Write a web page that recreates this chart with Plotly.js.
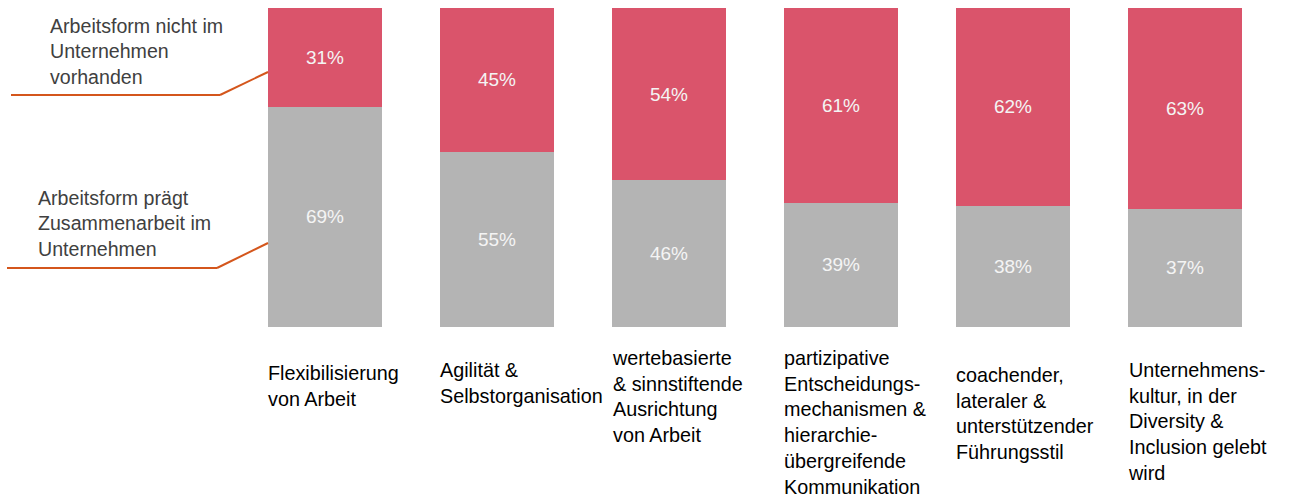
<!DOCTYPE html>
<html>
<head>
<meta charset="utf-8">
<script src="https://cdn.plot.ly/plotly-3.0.1.min.js"></script>
<style>html,body{margin:0;padding:0;background:#fff;}#chart{width:1303px;height:498px;}</style>
</head>
<body>
<div id="chart"></div>
<script>
// ---- data ----
const categories = [
  "Flexibilisierung<br>von Arbeit",
  "Agilität &<br>Selbstorganisation",
  "wertebasierte<br>& sinnstiftende<br>Ausrichtung<br>von Arbeit",
  "partizipative<br>Entscheidungs-<br>mechanismen &<br>hierarchie-<br>übergreifende<br>Kommunikation",
  "coachender,<br>lateraler &<br>unterstützender<br>Führungsstil",
  "Unternehmens-<br>kultur, in der<br>Diversity &<br>Inclusion gelebt<br>wird"
];
const praegtValues = [69, 55, 46, 39, 38, 37];
const nichtValues = [31, 45, 54, 61, 62, 63];
const seriesNames = ["Arbeitsform prägt<br>Zusammenarbeit im<br>Unternehmen", "Arbeitsform nicht im<br>Unternehmen<br>vorhanden"];

// ---- layout geometry (pixels) ----
const W = 1303, H = 498;
const mL = 239, mR = 32, mT = 8, mB = 171;
const plotW = W - mL - mR, plotH = H - mT - mB;
const px = p => (p - mL) / plotW;
const py = p => (H - mB - p) / plotH;

const FONT = "Arial, 'Liberation Sans', sans-serif";
const grey = "#b4b4b4", red = "#da546b", orange = "#d4561c";
const barWidth = 0.663;

const idx = categories.map((c, i) => i);

const traces = [
  {type: "bar", x: idx, y: praegtValues, name: seriesNames[0], marker: {color: grey},
   width: barWidth, texttemplate: "%{y}%", textposition: "inside", insidetextanchor: "middle",
   textangle: 0, constraintext: "none", textfont: {family: FONT, size: 19, color: "#f4f4f4"}, hoverinfo: "none"},
  {type: "bar", x: idx, y: nichtValues, name: seriesNames[1], marker: {color: red},
   width: barWidth, texttemplate: "%{y}%", textposition: "inside", insidetextanchor: "middle",
   textangle: 0, constraintext: "none", textfont: {family: FONT, size: 19, color: "#f4f4f4"}, hoverinfo: "none"}
];

// category label first-line centre (px)
const labelTops = [373, 370, 358, 358, 375, 370];
const annotations = categories.map((c, i) => ({
  xref: "x", yref: "paper", x: i - barWidth / 2, y: py(labelTops[i] - 13), xshift: -2,
  xanchor: "left", yanchor: "top", align: "left", showarrow: false,
  text: c, font: {family: FONT, size: 19.8, color: "#000"}
}));
annotations.push({xref: "paper", yref: "paper", x: px(48), y: py(51), xanchor: "left", yanchor: "middle",
  align: "left", showarrow: false, text: seriesNames[1], font: {family: FONT, size: 19.6, color: "#404040"}});
annotations.push({xref: "paper", yref: "paper", x: px(36), y: py(223), xanchor: "left", yanchor: "middle",
  align: "left", showarrow: false, text: seriesNames[0], font: {family: FONT, size: 19.6, color: "#404040"}});

const seg = (x0, y0, x1, y1) => ({type: "line", xref: "paper", yref: "paper",
  x0: px(x0), y0: py(y0), x1: px(x1), y1: py(y1), line: {color: orange, width: 2}});
const shapes = [
  seg(11, 95, 220, 95), seg(220, 95, 268, 72),
  seg(7, 268, 217, 268), seg(217, 268, 268, 243)
];

const layout = {
  width: W, height: H, barmode: "stack", showlegend: false,
  margin: {l: mL, r: mR, t: mT, b: mB, pad: 0},
  paper_bgcolor: "#ffffff", plot_bgcolor: "#ffffff",
  xaxis: {range: [-0.5, 5.5], showticklabels: false, showgrid: false, zeroline: false, showline: false, ticks: "", fixedrange: true},
  yaxis: {range: [0, 100], showticklabels: false, showgrid: false, zeroline: false, showline: false, ticks: "", fixedrange: true},
  annotations: annotations, shapes: shapes
};

Plotly.newPlot("chart", traces, layout, {displayModeBar: false, staticPlot: true});
</script>
</body>
</html>
